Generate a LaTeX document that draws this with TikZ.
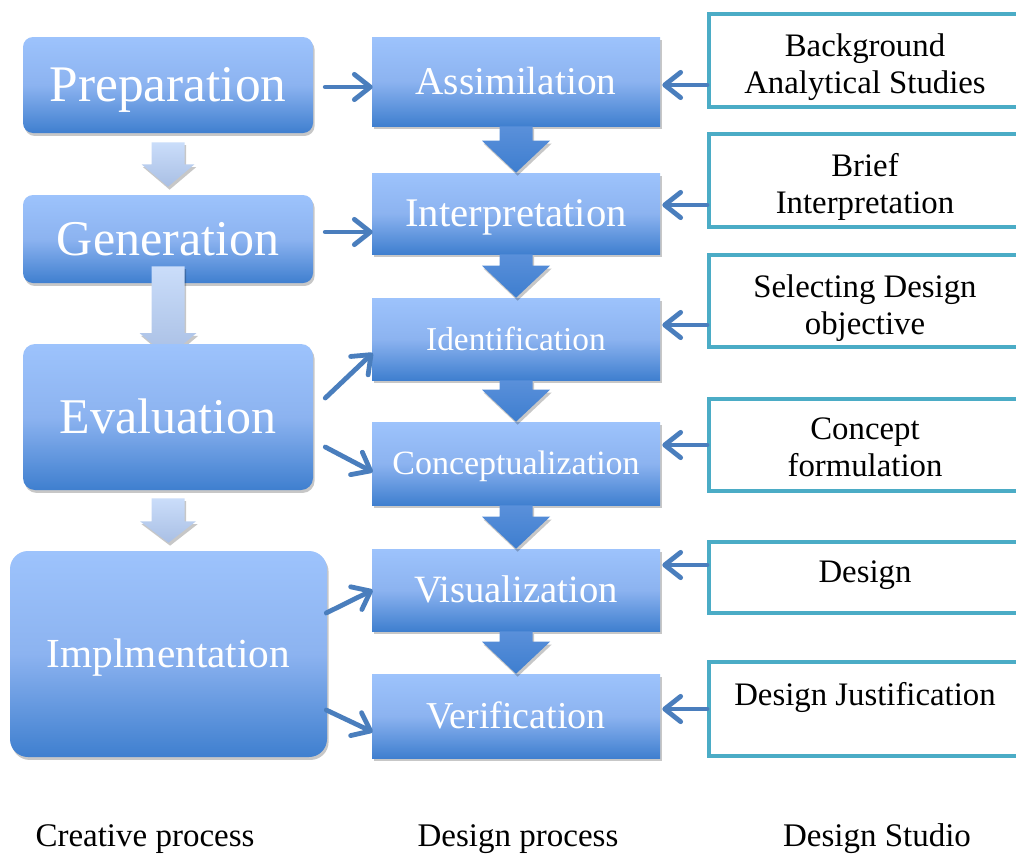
\documentclass[tikz,border=0pt]{standalone}
\usepackage{fontspec}
\setmainfont{Liberation Serif}
\usetikzlibrary{arrows.meta,calc,shadows}
\definecolor{bluetop}{HTML}{9DC3FC}
\definecolor{bluemid}{HTML}{8CB3F0}
\definecolor{bluebot}{HTML}{3F7FCF}
\definecolor{conncol}{HTML}{4A7EBD}
\definecolor{studioteal}{HTML}{4BACC6}
\definecolor{lighttop}{HTML}{CADDFA}
\definecolor{lightbot}{HTML}{A9BFE4}
\definecolor{darrtop}{HTML}{5A90DA}
\definecolor{darrbot}{HTML}{3E7ECF}
\tikzset{
  softshadow/.style={drop shadow={shadow xshift=1.2pt, shadow yshift=-2.2pt, opacity=0.22, fill=black}},
  txt/.style 2 args={font=\fontsize{#1}{#1}\selectfont, text height=#2, text depth=0pt},
  bluebox/.style={shape=rectangle, top color=bluetop, bottom color=bluebot, middle color=bluemid,
    text=white, inner sep=0pt, softshadow},
  creative/.style={bluebox, minimum width=217.5pt},
  design/.style={bluebox, minimum width=216pt},
  studio/.style={draw=studioteal, line width=3pt, fill=white, minimum width=237pt, inner sep=0pt},
  studiotext/.style={anchor=north, inner sep=0pt, align=center, text=black,
    font=\fontsize{24.6pt}{27.75pt}\selectfont},
  conn/.style={draw=conncol, line width=3.6pt, line cap=round,
    -{Straight Barb[length=12pt,width=19pt,round]}},
  lightarrow/.style={top color=lighttop, bottom color=lightbot, softshadow},
  downarrow/.style={top color=darrtop, bottom color=darrbot, softshadow},
  caption/.style={font=\fontsize{24.75pt}{28pt}\selectfont, anchor=base, inner sep=0pt},
}
\begin{document}
\begin{tikzpicture}[x=0.75pt,y=-0.75pt]
\clip (0,0) rectangle (1016,853);
\fill[white] (0,0) rectangle (1016,853);

% ---------- Creative process column ----------
\node[creative, rounded corners=7.5pt, minimum height=72pt, txt={38.5pt}{25.4pt}] (prep) at (168,85) {Preparation};
\node[creative, rounded corners=7.5pt, minimum height=66pt, txt={37.5pt}{24.75pt}] (gen) at (168,239) {Generation};

\path[lightarrow] ($(prep.south)+(-16.5,9)$) -- ($(prep.south)+(16.5,9)$) -- ($(prep.south)+(16.5,31)$)
  -- ($(prep.south)+(26.5,31)$) -- ($(gen.north)+(0,-8)$) -- ($(prep.south)+(-26.5,31)$)
  -- ($(prep.south)+(-16.5,31)$) -- cycle;

\coordinate (evtop) at (168,344);
\path[lightarrow] ($(gen.south)+(-16.5,-17)$) -- ($(gen.south)+(16.5,-17)$) -- ($(evtop)+(16.5,-11)$)
  -- ($(evtop)+(28.5,-11)$) -- ($(evtop)+(0,13)$) -- ($(evtop)+(-28.5,-11)$)
  -- ($(evtop)+(-16.5,-11)$) -- cycle;

\node[creative, rounded corners=9pt, minimum height=109.5pt, txt={37.5pt}{24.75pt}] (eval) at (168,417) {Evaluation};
\node[creative, rounded corners=13.5pt, minimum width=237.75pt, minimum height=154.5pt, txt={31pt}{20.5pt}] (impl) at (168.5,654) {Implmentation};

\path[lightarrow] ($(eval.south)+(-16.5,8)$) -- ($(eval.south)+(16.5,8)$) -- ($(eval.south)+(16.5,31)$)
  -- ($(eval.south)+(28,31)$) -- ($(impl.north)+(0,-8)$) -- ($(eval.south)+(-28,31)$)
  -- ($(eval.south)+(-16.5,31)$) -- cycle;

% ---------- Design process column ----------
\node[design, minimum height=66.75pt, txt={29.5pt}{19.5pt}] (assim) at (516,81.5) {Assimilation};
\node[design, minimum height=60.75pt, txt={30.5pt}{20.1pt}] (interp) at (516,213.5) {Interpretation};
\node[design, minimum height=61.5pt, txt={25pt}{16.5pt}] (ident) at (516,339) {Identification};
\node[design, minimum height=62.25pt, txt={25.5pt}{16.8pt}] (concept) at (516,463.5) {Conceptualization};
\node[design, minimum height=61.5pt, txt={29pt}{19.1pt}] (visual) at (516,590) {Visualization};
\node[design, minimum height=63pt, txt={28.5pt}{18.8pt}] (verif) at (516,716) {Verification};

\foreach \a/\b in {assim/interp, interp/ident, ident/concept, concept/visual, visual/verif} {
  \path[downarrow] ($(\a.south)+(-16.5,0)$) -- ($(\a.south)+(16.5,0)$) -- ($(\b.north)+(16.5,-32)$)
    -- ($(\b.north)+(34,-32)$) -- (\b.north) -- ($(\b.north)+(-34,-32)$)
    -- ($(\b.north)+(-16.5,-32)$) -- cycle;
}

% ---------- Design Studio column ----------
\node[studio, minimum height=69.75pt] (rs1) at (867,60.5) {};
\node[studio, minimum height=69.75pt] (rs2) at (867,180.5) {};
\node[studio, minimum height=69pt] (rs3) at (867,301) {};
\node[studio, minimum height=69pt] (rs4) at (867,445) {};
\node[studio, minimum height=53.25pt] (rs5) at (867,577) {};
\node[studio, minimum height=70.5pt] (rs6) at (867,709) {};

\node[studiotext] (rt1) at (865,33) {Background\\Analytical Studies};
\node[studiotext] (rt2) at (865,153) {Brief\\Interpretation};
\node[studiotext] (rt3) at (865,274) {Selecting Design\\objective};
\node[studiotext] (rt4) at (865,418) {Concept\\formulation};
\node[studiotext] (rt5) at (865,561) {Design};
\node[studiotext] (rt6) at (865,682) {Design Justification};

% ---------- connectors: creative -> design ----------
\draw[conn] ($(prep.east)+(12,2)$) -- ($(assim.west)+(1,5.5)$);
\draw[conn] ($(gen.east)+(12,-7)$) -- ($(interp.west)+(1,18.5)$);
\draw[conn] ($(eval.east)+(12,-19)$) -- ($(ident.west)+(1,14)$);
\draw[conn] ($(eval.east)+(12,30)$) -- ($(concept.west)+(1,8.5)$);
\draw[conn] ($(impl.east)+(-1,-41)$) -- ($(visual.west)+(1,0)$);
\draw[conn] ($(impl.east)+(-1,56)$) -- ($(verif.west)+(1,16)$);

% ---------- connectors: studio -> design ----------
\draw[conn] ($(rs1.west)+(0,24.5)$) -- ($(assim.east)+(2,3.5)$);
\draw[conn] ($(rs2.west)+(0,24.5)$) -- ($(interp.east)+(2,-8.5)$);
\draw[conn] ($(rs3.west)+(0,24)$) -- ($(ident.east)+(2,-14)$);
\draw[conn] ($(rs4.west)+(0,0)$) -- ($(concept.east)+(2,-18.5)$);
\draw[conn] ($(rs5.west)+(0,-12)$) -- ($(visual.east)+(2,-25)$);
\draw[conn] ($(rs6.west)+(0,0)$) -- ($(verif.east)+(2,-7)$);

% ---------- column captions ----------
\node[caption] (cap1) at (145,846) {Creative process};
\node[caption] (cap2) at (518,846) {Design process};
\node[caption] (cap3) at (877,846) {Design Studio};
\end{tikzpicture}
\end{document}
